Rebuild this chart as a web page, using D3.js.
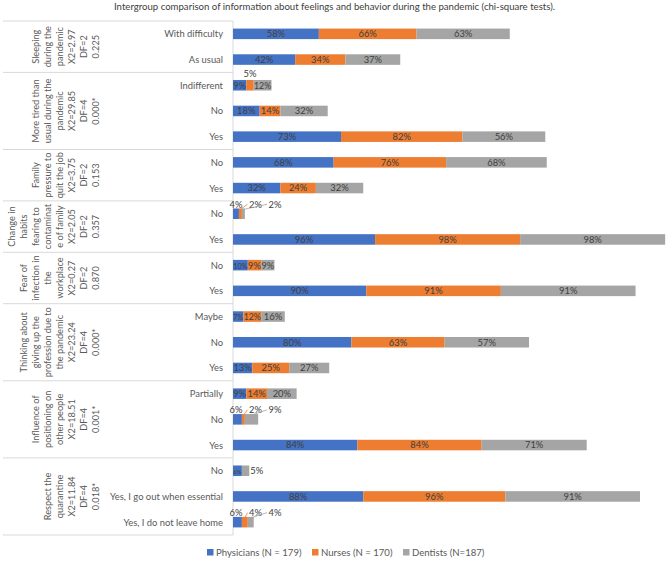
<!DOCTYPE html>
<html><head><meta charset="utf-8">
<script src="https://cdn.jsdelivr.net/npm/d3@7/dist/d3.min.js"></script>
<style>body{margin:0;background:#fff}svg{display:block}text{font-family:Lato,"Open Sans",sans-serif}</style>
</head><body>
<script>
const title = "Intergroup comparison of information about feelings and behavior during the pandemic (chi-square tests).";
const seriesNames = ["Physicians (N = 179)", "Nurses (N = 170)", "Dentists (N=187)"];
const colors = ["#4472C4", "#ED7D31", "#A5A5A5"];
const groupLabels = [
  ["Sleeping","during the","pandemic","X2=2.97","DF=2","0.225"],
  ["More tired than","usual during the","pandemic","X2=29.85","DF=4","0.000*"],
  ["Family","pressure to","quit the job","X2=3.75","DF=2","0.153"],
  ["Change in","habits","fearing to","contaminat","e of family","X2=2.05","DF=2","0.357"],
  ["Fear of","infection in","the","workplace","X2=0.27","DF=2","0.870"],
  ["Thinking about","giving up the","profession due to","the pandemic","X2=23.24","DF=4","0.000*"],
  ["Influence of","positioning on","other people","X2=18.51","DF=4","0.001*"],
  ["Respect the","quarantine","X2=11.84","DF=4","0.018*"]
];
const groupSizes = [2,3,2,2,2,3,3,3];
const categories = ["With difficulty","As usual","Indifferent","No","Yes","No","Yes","No","Yes","No","Yes","Maybe","No","Yes","Partially","No","Yes","No","Yes, I go out when essential","Yes, I do not leave home"];
const physicians = [58,42,9,18,73,68,32,4,96,10,90,7,80,13,9,6,84,6,88,6];
const nurses     = [66,34,5,14,82,76,24,2,98,9,91,12,63,25,14,2,84,0,96,4];
const dentists   = [63,37,12,32,56,68,32,2,98,9,91,16,57,27,20,9,71,5,91,4];

(function(){
const W = 670, H = 563;
const svg = d3.select("body").append("svg").attr("width", W).attr("height", H);
const y0 = 21, y1 = 535;
const x = d3.scaleLinear().domain([0, 300]).range([233, 677]);
const y = d3.scaleBand().domain(d3.range(categories.length)).range([y0, y1]).paddingInner(0.59).paddingOuter(0.295);
const step = y.step();
const FS = 9.4, GFS = 9.2, LFS = 9.4;

svg.append("text").attr("x", 334.5).attr("y", 10).attr("text-anchor", "middle")
  .attr("font-size", 9.6).attr("fill", "#404040").text(title);

let start = 0;
const bounds = [y0];
groupSizes.forEach(n => { start += n; bounds.push(y0 + start * step); });
svg.selectAll("line.sep").data(bounds).join("line").attr("class","sep")
  .attr("x1", 3).attr("x2", 233).attr("y1", d => d).attr("y2", d => d)
  .attr("stroke", "#d9d9d9").attr("stroke-width", 1);
svg.append("line").attr("x1", 233).attr("x2", 233).attr("y1", y0).attr("y2", y1)
  .attr("stroke", "#d9d9d9");

groupLabels.forEach((lines, gi) => {
  const cy = (bounds[gi] + bounds[gi+1]) / 2;
  const n = lines.length;
  lines.forEach((ln, li) => {
    const cx = 95 - (n - 1 - li) * 11.9;
    svg.append("text").attr("transform", `translate(${cx + 3.5},${cy}) rotate(-90)`)
      .attr("text-anchor", "middle").attr("font-size", GFS).attr("fill", "#595959").text(ln);
  });
});

svg.selectAll("text.cat").data(categories).join("text").attr("class","cat")
  .attr("x", 223).attr("y", (d,i) => y(i) + y.bandwidth()/2 + 3.5)
  .attr("text-anchor", "end").attr("font-size", FS).attr("fill", "#595959").text(d => d);

const series = [physicians, nurses, dentists];
const rows = categories.map((c, i) => {
  let acc = 0;
  return series.map((s, k) => { const v = s[i]; const seg = {i, k, v, x0: acc, x1: acc + v}; acc += v; return seg; });
});
const segs = rows.flat();
svg.selectAll("rect.bar").data(segs.filter(d => d.v > 0)).join("rect").attr("class","bar")
  .attr("x", d => x(d.x0)).attr("width", d => x(d.x1) - x(d.x0))
  .attr("y", d => y(d.i)).attr("height", y.bandwidth()).attr("fill", d => colors[d.k]);

rows.forEach((row, i) => {
  const cy = y(i) + y.bandwidth()/2;
  const callout = row.some(d => d.v > 0 && d.v < 5);
  row.forEach((d, k) => {
    if (d.v <= 0) return;
    const mid = (x(d.x0) + x(d.x1)) / 2;
    const segW = x(d.x1) - x(d.x0);
    const txt = d.v + "%";
    if (callout) {
      const lx = x(0) + 3 + k * 19.5, ly = cy - 9.5;
      if (k > 0) {
        svg.append("line").attr("x1", lx - 8).attr("y1", ly).attr("x2", mid).attr("y2", y(i) + 1)
          .attr("stroke", colors[k]).attr("stroke-width", 0.8);
      }
      svg.append("text").attr("x", lx).attr("y", ly + 3.4).attr("text-anchor", "middle")
        .attr("font-size", LFS).attr("fill", "#404040").text(txt);
    } else if (d.v >= 6) {
      const t = svg.append("text").attr("x", mid).attr("y", cy + 3.4).attr("text-anchor", "middle")
        .attr("font-size", LFS).attr("fill", "#404040").text(txt);
      const tw = t.node().getComputedTextLength();
      if (tw > segW - 0.6) {
        t.attr("font-size", (LFS * (segW - 0.6) / tw).toFixed(2));
      }
    } else if (k === 2 || row.slice(k+1).every(e => e.v === 0)) {
      svg.append("text").attr("x", x(d.x1) + 1).attr("y", cy + 3.4).attr("text-anchor", "start")
        .attr("font-size", LFS).attr("fill", "#404040").text(txt);
    } else {
      svg.append("text").attr("x", mid).attr("y", cy - 8).attr("text-anchor", "middle")
        .attr("font-size", LFS).attr("fill", "#404040").text(txt);
    }
  });
});

const legX = [207, 312, 403];
seriesNames.forEach((n, k) => {
  svg.append("rect").attr("x", legX[k]).attr("y", 549).attr("width", 6.5).attr("height", 6.5).attr("fill", colors[k]);
  svg.append("text").attr("x", legX[k] + 9).attr("y", 556).attr("font-size", 9.6).attr("fill", "#595959").text(n);
});
})();
</script>
</body></html>
